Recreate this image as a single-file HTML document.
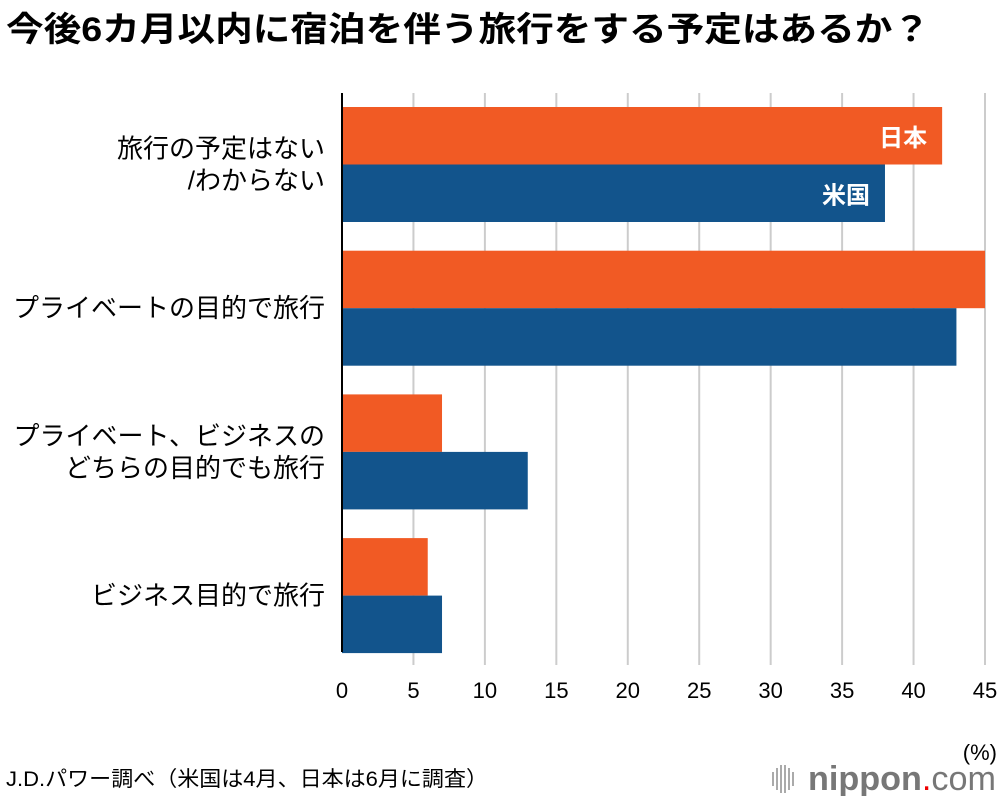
<!DOCTYPE html>
<html><head><meta charset="utf-8"><style>
body{margin:0;background:#fff;}
svg{display:block;font-family:"Liberation Sans","Noto Sans CJK JP",sans-serif;}
</style></head><body>
<svg id="c" width="1000" height="796" viewBox="0 0 1000 796">
<text x="6" y="41" font-size="34" font-weight="bold" fill="#000" textLength="924" lengthAdjust="spacingAndGlyphs">今後6カ月以内に宿泊を伴う旅行をする予定はあるか？</text>
<g id="grid"></g><g id="bars"></g><g id="labels"></g>
<line x1="342" y1="93" x2="342" y2="652" stroke="#000" stroke-width="2"/>
<text x="997" y="760" font-size="22" text-anchor="end">(%)</text>
<text x="6" y="786" font-size="21" textLength="482" lengthAdjust="spacingAndGlyphs">J.D.パワー調べ（米国は4月、日本は6月に調査）</text>
<g>
<g stroke="#aaa" stroke-width="2"><line x1="773" y1="772" x2="773" y2="786"/><line x1="777" y1="768" x2="777" y2="790"/><line x1="781" y1="765" x2="781" y2="793"/><line x1="785" y1="765" x2="785" y2="793"/><line x1="789" y1="768" x2="789" y2="790"/><line x1="793" y1="772" x2="793" y2="786"/></g>
<text x="808" y="790" font-size="34" fill="#777" textLength="188" lengthAdjust="spacingAndGlyphs"><tspan font-weight="bold">nippon</tspan><tspan fill="#e00">.</tspan><tspan>com</tspan></text>
</g>
</svg>
<script>
const categories=[["旅行の予定はない","/わからない"],["プライベートの目的で旅行"],["プライベート、ビジネスの","どちらの目的でも旅行"],["ビジネス目的で旅行"]];
const japan=[42,45,7,6];
const usa=[38,43,13,7];
const ticks=[0,5,10,15,20,25,30,35,40,45];
const NS="http://www.w3.org/2000/svg";
const x0=342,x1=985,xmax=45;
const X=v=>x0+(x1-x0)*v/xmax;
const top0=107,step=143.7,bh=57.5;
function mk(t,a,p){const e=document.createElementNS(NS,t);for(const k in a)e.setAttribute(k,a[k]);p.appendChild(e);return e;}
const g=document.getElementById('grid'),b=document.getElementById('bars'),l=document.getElementById('labels');
ticks.forEach(t=>{
 if(t>0){const ln=mk('line',{x1:X(t),x2:X(t),y1:93,y2:665,stroke:'#ccc','stroke-width':2},g);
 
 }
 const tx=mk('text',{x:X(t),y:698,'font-size':22,'text-anchor':'middle'},l);tx.textContent=t;
 
 
});
categories.forEach((c,i)=>{
 const y=top0+i*step;
 const r1=mk('rect',{x:x0,y:y,width:X(japan[i])-x0,height:bh,fill:'#f15a24'},b);
 
 
 const r2=mk('rect',{x:x0,y:y+bh,width:X(usa[i])-x0,height:bh,fill:'#12548c'},b);
 
 
 const cy=y+bh;
 c.forEach((s,j)=>{
  const tx=mk('text',{x:325,y:cy+9+(j-(c.length-1)/2)*32,'font-size':26,'text-anchor':'end'},l);tx.textContent=s;
  
  
 });
 if(i===0){
  const a=mk('text',{x:X(japan[i])-15,y:y+39,'font-size':24,'font-weight':'bold',fill:'#fff','text-anchor':'end'},l);a.textContent='日本';
  
  
  const u=mk('text',{x:X(usa[i])-15,y:y+bh+39,'font-size':24,'font-weight':'bold',fill:'#fff','text-anchor':'end'},l);u.textContent='米国';
  
  
 }
});
</script>
</body></html>
